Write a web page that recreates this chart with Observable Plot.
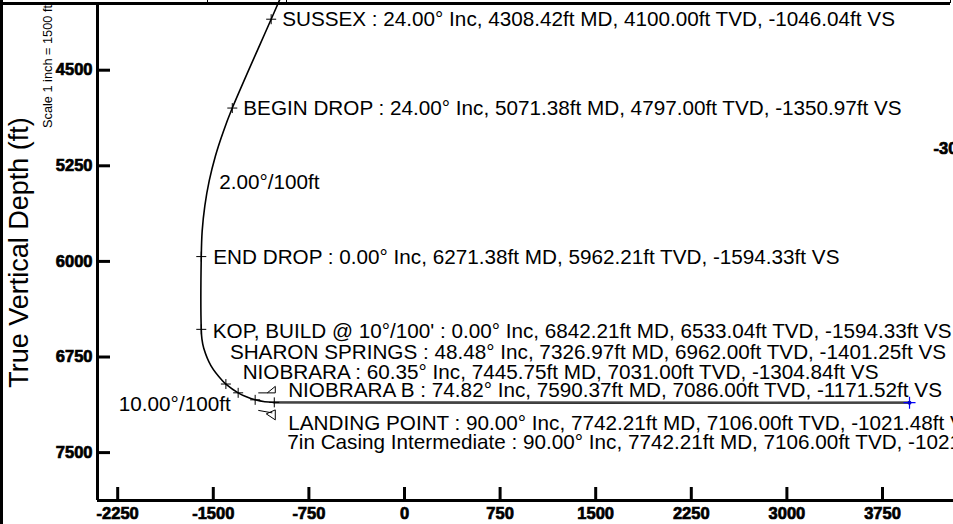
<!DOCTYPE html>
<html>
<head>
<meta charset="utf-8">
<script src="https://cdn.jsdelivr.net/npm/d3@7"></script>
<script src="https://cdn.jsdelivr.net/npm/@observablehq/plot@0.6"></script>
<style>
  html, body { margin: 0; padding: 0; background: #fff; }
  #wrap { position: relative; width: 953px; height: 524px; overflow: hidden; }
  .ln { position: absolute; background: #000; }
  g[aria-label="x-axis tick label"] text, g[aria-label="y-axis tick label"] text,
  .boldtick text { stroke: #000; stroke-width: 0.7px; }
</style>
</head>
<body>
<div id="wrap"></div>
<script>
// ---- data ----
const xTicks = [-2250, -1500, -750, 0, 750, 1500, 2250, 3000, 3750];
const yTicks = [4500, 5250, 6000, 6750, 7500];

// well path (vertical section ft, true vertical depth ft)
const pathVS  = [-958.5, -1046.04, -1350.97, -1421.5, -1483.3, -1531.7, -1566.4, -1587.3, -1594.33,
                 -1594.33, -1589.4, -1574.8, -1517.6, -1426.5, -1401.25, -1304.84, -1240.6, -1171.52, -1096.1, -1021.48, 3962];
const pathTVD = [3900, 4100, 4797, 4982.4, 5172.6, 5366.6, 5563.5, 5762.4, 5962.21,
                 6533.04, 6607.8, 6681.3, 6819.5, 6938.2, 6962, 7031, 7062.4, 7086, 7101.1, 7106, 7108];

// annotated points
const markerNames = ["SUSSEX", "BEGIN DROP", "END DROP", "KOP, BUILD @ 10°/100'", "SHARON SPRINGS",
                     "NIOBRARA", "NIOBRARA B", "LANDING POINT", "7in Casing Intermediate"];
const markerInc = [24.00, 24.00, 0.00, 0.00, 48.48, 60.35, 74.82, 90.00, 90.00];
const markerMD  = [4308.42, 5071.38, 6271.38, 6842.21, 7326.97, 7445.75, 7590.37, 7742.21, 7742.21];
const markerTVD = [4100.00, 4797.00, 5962.21, 6533.04, 6962.00, 7031.00, 7086.00, 7106.00, 7106.00];
const markerVS  = [-1046.04, -1350.97, -1594.33, -1594.33, -1401.25, -1304.84, -1171.52, -1021.48, -1021.48];

// dogleg labels
const rateText = ["2.00°/100ft", "10.00°/100ft"];
const rateVS   = [-1531.7, -1426.5];
const rateTVD  = [5366.6, 6938.2];

// end of lateral
const tdVS = [3962];
const tdTVD = [7108];

// ---- layout (pixel offsets only) ----
const labelDx = [11, 11, 12, 11.5, 4, 4.5, 33, 14, 13];
const labelDy = [0, 0, 1, 2, -32, -20.6, -9.3, 21.4, 40];
const rateLayout = [{dx: 10, dy: 1.6, anchor: "start"}, {dx: 8, dy: 23, anchor: "end"}];

const fmt = v => v.toFixed(2);
const markers = markerNames.map((n, i) => ({
  name: n, vs: markerVS[i], tvd: markerTVD[i],
  text: `${n} : ${fmt(markerInc[i])}° Inc, ${fmt(markerMD[i])}ft MD, ${fmt(markerTVD[i])}ft TVD, ${fmt(markerVS[i])}ft VS`
}));
const path = pathVS.map((v, i) => ({vs: v, tvd: pathTVD[i]}));
const rates = rateText.map((t, i) => ({text: t, vs: rateVS[i], tvd: rateTVD[i]}));
const td = tdVS.map((v, i) => ({vs: v, tvd: tdTVD[i]}));

// thin cross symbol
const crossSym = (k) => ({draw(ctx, size) {
  const r = Math.sqrt(size / Math.PI) * k;
  ctx.moveTo(-r, 0); ctx.lineTo(r, 0);
  ctx.moveTo(0, -r); ctx.lineTo(0, r);
}});
// casing shoe symbol
const shoeSym = {draw(ctx) {
  ctx.moveTo(-16, -9.5); ctx.lineTo(1, -9.5);
  ctx.moveTo(-7, -9.5); ctx.lineTo(1, -16); ctx.lineTo(1, -9.5);
  ctx.moveTo(-16, 8); ctx.lineTo(-2, 10.5);
  ctx.moveTo(1, 7.5); ctx.lineTo(-8, 11.5); ctx.lineTo(1, 17.5); ctx.lineTo(1, 7.5);
}};

const x0 = -2408.4, x1 = 4307;
const y0 = 3953.2, y1 = 7875.7;
const FONT = "Liberation Sans, Arial, sans-serif";
const LBL = 20.7;

const labelMarks = markers.map((m, i) =>
  Plot.text([m], {x: "vs", y: "tvd", text: "text", dx: labelDx[i], dy: labelDy[i],
    textAnchor: "start", fontSize: LBL, fill: "#000"}));
const rateMarks = rates.map((r, i) =>
  Plot.text([r], {x: "vs", y: "tvd", text: "text", dx: rateLayout[i].dx, dy: rateLayout[i].dy,
    textAnchor: rateLayout[i].anchor, fontSize: LBL, fill: "#000"}));

const chart = Plot.plot({
  width: 953, height: 524,
  marginLeft: 97, marginRight: 0, marginTop: 0, marginBottom: 24,
  style: {fontFamily: FONT, background: "#fff", color: "#000", overflow: "hidden"},
  x: {domain: [x0, x1]},
  y: {domain: [y0, y1], reverse: true},
  marks: [
    // axes lines
    Plot.ruleX([x0], {stroke: "#000", strokeWidth: 3, insetTop: 5}),
    Plot.ruleY([y1], {stroke: "#000", strokeWidth: 3}),
    Plot.tickY(yTicks, {y: d => d, stroke: "#000", strokeWidth: 3, insetRight: 843}),
    Plot.tickX(xTicks, {x: d => d, stroke: "#000", strokeWidth: 3, insetTop: 487}),
    Plot.axisY({ticks: yTicks, tickSize: 0, tickPadding: 5, tickFormat: d => String(d),
      fontSize: 16.5, fontWeight: "bold", label: null}),
    Plot.axisX({ticks: xTicks, tickSize: 0, tickPadding: 6.5, tickFormat: d => String(d),
      fontSize: 16.5, fontWeight: "bold", label: null}),
    // well path
    Plot.line(path, {x: "vs", y: "tvd", curve: "catmull-rom", stroke: "#000", strokeWidth: 1.6, clip: true}),
    Plot.line(path.slice(-2), {x: "vs", y: "tvd", stroke: "#444", strokeWidth: 2.4}),
    // markers
    Plot.dot(markers.slice(0, 8), {x: "vs", y: "tvd", r: 5, symbol: crossSym(1), fill: "none", stroke: "#000", strokeWidth: 1}),
    Plot.dot(markers.slice(7, 8), {x: "vs", y: "tvd", r: 5, symbol: shoeSym, fill: "none", stroke: "#000", strokeWidth: 1}),
    Plot.dot(td, {x: "vs", y: "tvd", r: 6, symbol: crossSym(1), fill: "none", stroke: "#0000ff", strokeWidth: 1.2}),
    Plot.dot(td, {x: "vs", y: "tvd", r: 2, fill: "#0000cc", stroke: "none"}),
    ...labelMarks,
    ...rateMarks,
    // titles
    Plot.text(["True Vertical Depth (ft)"], {frameAnchor: "left", rotate: -90, dx: -78, dy: 2,
      textAnchor: "middle", lineAnchor: "middle", fontSize: 27, fill: "#000"}),
    Plot.text(["Scale 1 inch = 1500 ft"], {frameAnchor: "top-left", rotate: -90, dx: -50, dy: 66,
      textAnchor: "middle", lineAnchor: "middle", fontSize: 12.75, fill: "#000"}),
    Plot.text(["-3000"], {frameAnchor: "top-right", dx: -20, dy: 142, textAnchor: "start",
      fontSize: 16.5, fontWeight: "bold", fill: "#000", className: "boldtick"})
  ]
});

const wrap = document.getElementById("wrap");
wrap.appendChild(chart);
const addLine = (l, t, w, h) => { const d = document.createElement("div"); d.className = "ln";
  Object.assign(d.style, {left: l + "px", top: t + "px", width: w + "px", height: h + "px"}); wrap.appendChild(d); };
addLine(0, 0, 2.5, 524);      // left border
addLine(0, 2, 950, 2.5);      // top border
[207, 286, 950].forEach(x => addLine(x, 0, 1, 3));
</script>
</body>
</html>
